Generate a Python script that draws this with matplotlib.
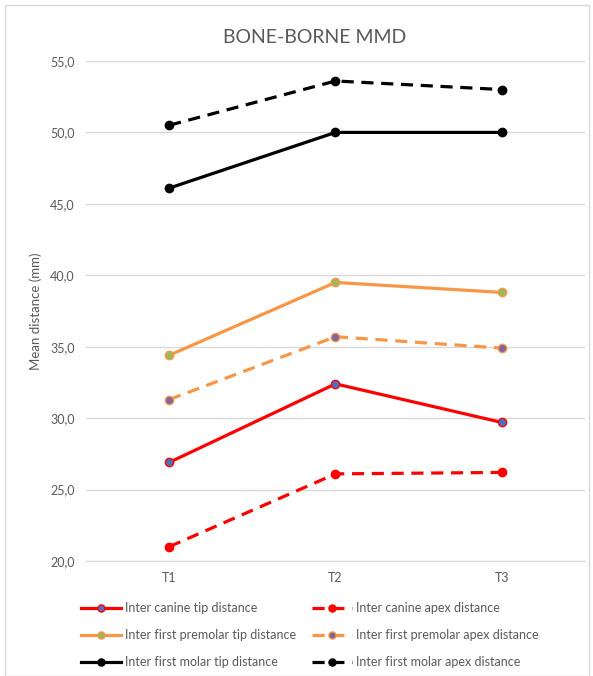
import matplotlib.pyplot as plt
from matplotlib.patches import Rectangle
from matplotlib.ticker import FuncFormatter

plt.rcParams['font.family'] = ['Lato', 'DejaVu Sans']

# data
times = ['T1', 'T2', 'T3']
canine_tip = [26.9, 32.4, 29.7]
canine_apex = [21.0, 26.1, 26.2]
premolar_tip = [34.4, 39.5, 38.8]
premolar_apex = [31.3, 35.7, 34.9]
molar_tip = [46.1, 50.0, 50.0]
molar_apex = [50.5, 53.6, 53.0]

red = '#FF0000'
orange = '#F79646'
grey = '#595959'

fig = plt.figure(figsize=(5.93, 6.76), dpi=100)
ax = fig.add_axes([0.145, 0.1701, 0.8415, 0.7397])

x = range(len(times))
lw = 2.3
ms = 6

h1, = ax.plot(x, canine_tip, '-', color=red, lw=lw, marker='o', ms=ms,
              mfc='#4472C4', mec=red, mew=1, label='Inter canine tip distance')
h2, = ax.plot(x, canine_apex, '--', color=red, lw=lw, marker='o', ms=ms,
              mfc=red, mec=red, dashes=(3.8, 2.4), label='Inter canine apex distance')
h3, = ax.plot(x, premolar_tip, '-', color=orange, lw=lw, marker='o', ms=ms,
              mfc='#9BBB59', mec=orange, mew=1, label='Inter first premolar tip distance')
h4, = ax.plot(x, premolar_apex, '--', color=orange, lw=lw, marker='o', ms=ms,
              mfc='#8064A2', mec=orange, mew=1, dashes=(3.8, 2.4),
              label='Inter first premolar apex distance')
h5, = ax.plot(x, molar_tip, '-', color='black', lw=lw, marker='o', ms=ms,
              mfc='black', mec='black', label='Inter first molar tip distance')
h6, = ax.plot(x, molar_apex, '--', color='black', lw=lw, marker='o', ms=ms,
              mfc='black', mec='black', dashes=(3.8, 2.4), label='Inter first molar apex distance')

ax.set_xlim(-0.5, 2.5)
ax.set_ylim(20, 55)
ax.set_yticks(range(20, 56, 5))
ax.yaxis.set_major_formatter(FuncFormatter(lambda v, p: f'{v:.1f}'.replace('.', ',')))
ax.set_xticks(list(x))
ax.set_xticklabels(times)
ax.grid(axis='y', color='#D9D9D9', lw=1)
ax.set_axisbelow(True)
for s in ['top', 'right', 'left']:
    ax.spines[s].set_visible(False)
ax.spines['bottom'].set_color('#D9D9D9')
ax.tick_params(axis='both', length=0, labelsize=9, colors=grey, pad=8)
ax.set_ylabel('Mean distance (mm)', fontsize=9.5, color=grey, labelpad=6)

fig.text(0.531, 0.945, 'BONE-BORNE MMD', ha='center', va='center', fontsize=14, color=grey)

fig.legend(handles=[h1, h3, h5, h2, h4, h6], ncol=2, loc='upper left',
           bbox_to_anchor=(0.12, 0.124), frameon=False, fontsize=9,
           labelcolor=grey, handlelength=3.2, handletextpad=0.3,
           columnspacing=1.3, labelspacing=1.2, borderpad=0.3, markerscale=0.85)

fig.patches.append(Rectangle((0.009, 0.0), 0.985, 0.992, transform=fig.transFigure,
                             fill=False, edgecolor='#D9D9D9', lw=1))

fig.savefig('out.png', dpi=100)
